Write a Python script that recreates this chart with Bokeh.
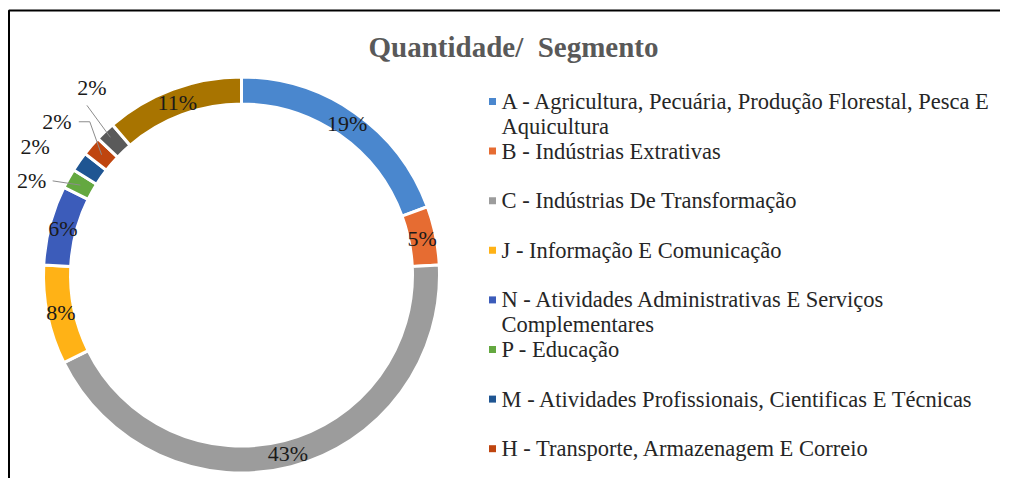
import math
from bokeh.plotting import figure
from bokeh.models import Range1d
from bokeh.core.properties import value
from bokeh.embed import file_html
from bokeh.resources import INLINE

# ---------------- data ----------------
title_text = "Quantidade/\u00a0 Segmento"
categories = [
    "A - Agricultura, Pecuária, Produção Florestal, Pesca E\nAquicultura",
    "B - Indústrias Extrativas",
    "C - Indústrias De Transformação",
    "J - Informação E Comunicação",
    "N - Atividades Administrativas E Serviços\nComplementares",
    "P - Educação",
    "M - Atividades Profissionais, Cientificas E Técnicas",
    "H - Transporte, Armazenagem E Correio",
    "Segmento 9 (legenda não visível)",
    "Segmento 10 (legenda não visível)",
]
shares = [19.4, 4.8, 43.5, 8.1, 6.5, 1.6, 1.6, 1.6, 1.6, 11.3]
pct_labels = ["19%", "5%", "43%", "8%", "6%", "2%", "2%", "2%", "2%", "11%"]
visible_legend = 8

# ---------------- style ----------------
colors = ["#4A87CE", "#E66C32", "#9C9C9C", "#FFB216", "#3C5CBA",
          "#64A840", "#1F5592", "#BF450F", "#5A5A5A", "#A87400"]
SERIF = "Liberation Serif"

W, H = 1000, 478
PAGE_H = 487
OX, OY = 1, 1   # measured canvas origin on the page


def Y(screen_y):
    return PAGE_H - screen_y


p = figure(width=W, height=H,
           x_range=Range1d(OX, OX + W),
           y_range=Range1d(PAGE_H - OY - H, PAGE_H - OY),
           output_backend="svg", toolbar_location=None, min_border=0,
           x_axis_type=None, y_axis_type=None)
p.grid.visible = False
p.outline_line_color = None
p.background_fill_color = "white"
p.border_fill_color = "white"

# frame (only top and left edge visible in the reference)
p.line(x=[9.5, 9.5, 1200], y=[-100, Y(11), Y(11)], line_color="black", line_width=2)

# ---------------- donut ----------------
cx, cy = 242, Y(275.5)
r_out, r_in = 198, 171
r_mid = (r_out + r_in) / 2
total = sum(shares)
starts, ends, mids = [], [], []
acc = 0.0
for s in shares:
    f0 = acc / total
    acc += s
    f1 = acc / total
    starts.append(math.pi / 2 - 2 * math.pi * f0)
    ends.append(math.pi / 2 - 2 * math.pi * f1)
    mids.append(360 * (f0 + f1) / 2)  # degrees clockwise from top

p.annular_wedge(x=cx, y=cy, inner_radius=r_in, outer_radius=r_out,
                start_angle=starts, end_angle=ends, direction="clock",
                fill_color=colors, line_color="white", line_width=3)

# labels
in_x, in_y, in_t = [], [], []
out_x, out_y, out_t = [], [], []
# outside label placement for small slices: index -> (radius, angle nudge deg)
outside = {5: (230, -5), 6: (243, -3), 7: (240, -1), 8: (240, 5)}
seg_pts = {}
for i, m in enumerate(mids):
    a = math.radians(m)
    seg_pts[i] = (cx + r_mid * math.sin(a), cy + r_mid * math.cos(a))
    if i in outside:
        r, d = outside[i]
        b = math.radians(m + d)
        out_x.append(cx + r * math.sin(b))
        out_y.append(cy + r * math.cos(b))
        out_t.append(pct_labels[i])
    else:
        in_x.append(seg_pts[i][0])
        in_y.append(seg_pts[i][1])
        in_t.append(pct_labels[i])

lab_kw = dict(text_font=value(SERIF), text_font_size="22px", text_color="#1a1a1a",
              text_align="center", text_baseline="middle")
p.text(x=in_x, y=in_y, text=in_t, **lab_kw)
p.text(x=out_x, y=out_y, text=out_t, **lab_kw)

# leader lines
lx, ly = [], []
ox = dict(zip(outside.keys(), out_x))
oy = dict(zip(outside.keys(), out_y))
lx.append([ox[5] + 21, seg_pts[5][0]]); ly.append([oy[5], seg_pts[5][1]])
lx.append([ox[7] + 22, ox[7] + 33, seg_pts[7][0]]); ly.append([oy[7], oy[7], seg_pts[7][1]])
lx.append([ox[8] - 5, seg_pts[8][0] - 4]); ly.append([oy[8] - 18, seg_pts[8][1] + 4])
p.multi_line(xs=lx, ys=ly, line_color="#8c8c8c", line_width=1)

# ---------------- title ----------------
p.text(x=[514], y=[Y(47)], text=[title_text], text_font=value(SERIF),
       text_font_size="29px", text_font_style="bold", text_color="#595959",
       text_align="center", text_baseline="middle")

# ---------------- legend ----------------
leg_top, leg_step, line_step = 102, 49.6, 25
mk_x, mk_y, mk_c = [], [], []
tx, ty, tt = [], [], []
for i in range(visible_legend):
    y0 = leg_top + i * leg_step
    mk_x.append(493)
    mk_y.append(Y(y0))
    mk_c.append(colors[i])
    for j, line in enumerate(categories[i].split("\n")):
        tx.append(502)
        ty.append(Y(y0 + j * line_step))
        tt.append(line)
p.scatter(x=mk_x, y=mk_y, marker="square", size=7, fill_color=mk_c, line_color=None)
p.text(x=tx, y=ty, text=tt, text_font=value(SERIF), text_font_size="22.5px",
       text_color="#262626", text_align="left", text_baseline="middle")

open("out.html", "w").write(file_html(p, INLINE))
